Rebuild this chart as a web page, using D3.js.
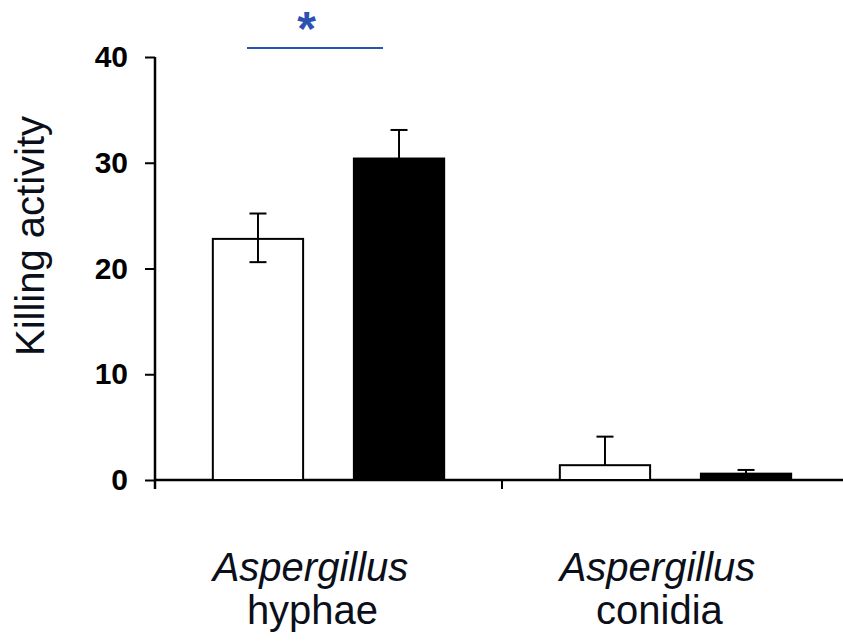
<!DOCTYPE html>
<html>
<head>
<meta charset="utf-8">
<script src="https://cdn.jsdelivr.net/npm/d3@7"></script>
<style>
  html,body{margin:0;padding:0;background:#fff;}
  svg{display:block;font-family:"Liberation Sans",Arial,sans-serif;}
</style>
</head>
<body>
<div id="chart"></div>
<script>
const groups=["hyphae","conidia"];
const groupPrefix=["Aspergillus","Aspergillus"];
const series=["control","treated"];
const seriesFill=["#ffffff","#000000"];
const means=[[22.8,30.4],[1.4,0.6]];
const errUp=[[2.4,2.7],[2.7,0.35]];
const errDown=[[2.2,0],[0,0]];
const yTicks=[0,10,20,30,40];

(function(){
  const W=843,H=643;
  const svg=d3.select("#chart").append("svg").attr("width",W).attr("height",H);
  const x0=155,x1=849,yBase=480,yTop=57;
  const x=d3.scaleBand().domain(groups).range([x0,x1]);
  const xi=d3.scaleBand().domain(series).range([0,x.bandwidth()]).paddingInner(.36).paddingOuter(.41);
  const y=d3.scaleLinear().domain([0,40]).range([yBase,yTop]);

  // y axis
  const ya=svg.append("g").attr("transform",`translate(${x0},0)`)
    .call(d3.axisLeft(y).tickValues(yTicks).tickSize(10).tickPadding(17));
  ya.select(".domain").attr("stroke","#000").attr("stroke-width",2.5).attr("d",`M0,${yTop}V${yBase+9}`);
  ya.selectAll(".tick line").attr("stroke","#000").attr("stroke-width",2);
  ya.selectAll(".tick text").attr("font-size",30).attr("font-weight","bold").attr("fill","#000")
    .attr("font-family","Liberation Sans,Arial,sans-serif");

  // x axis
  const xa=svg.append("g").attr("transform",`translate(0,${yBase})`);
  xa.append("line").attr("x1",x0).attr("x2",x1).attr("stroke","#000").attr("stroke-width",2.5);
  xa.selectAll(".sep").data(groups.slice(1)).join("line")
    .attr("x1",d=>x(d)).attr("x2",d=>x(d)).attr("y1",0).attr("y2",9)
    .attr("stroke","#000").attr("stroke-width",2);

  const rows=[];
  groups.forEach((g,gi)=>series.forEach((s,si)=>rows.push({g,s,gi,si,v:means[gi][si],up:errUp[gi][si],dn:errDown[gi][si]})));
  const cx=d=>x(d.g)+xi(d.s)+xi.bandwidth()/2;
  const cap=8.5;

  svg.append("g").selectAll("rect").data(rows).join("rect")
    .attr("x",d=>x(d.g)+xi(d.s)).attr("width",xi.bandwidth())
    .attr("y",d=>y(d.v)).attr("height",d=>yBase-y(d.v))
    .attr("fill",d=>seriesFill[d.si]).attr("stroke","#000").attr("stroke-width",2);

  // error bars
  const eb=svg.append("g").attr("stroke","#000").attr("stroke-width",2);
  eb.selectAll(".ev").data(rows).join("line")
    .attr("x1",cx).attr("x2",cx).attr("y1",d=>y(d.v-d.dn)).attr("y2",d=>y(d.v+d.up));
  eb.selectAll(".cu").data(rows).join("line")
    .attr("x1",d=>cx(d)-cap).attr("x2",d=>cx(d)+cap).attr("y1",d=>y(d.v+d.up)).attr("y2",d=>y(d.v+d.up));
  eb.selectAll(".cd").data(rows.filter(d=>d.dn>0)).join("line")
    .attr("x1",d=>cx(d)-cap).attr("x2",d=>cx(d)+cap).attr("y1",d=>y(d.v-d.dn)).attr("y2",d=>y(d.v-d.dn));

  // significance
  const r0=rows[0],r1=rows[1];
  const sy=48;
  svg.append("line").attr("x1",cx(r0)-11).attr("x2",cx(r1)-16).attr("y1",sy).attr("y2",sy)
    .attr("stroke","#2b52b0").attr("stroke-width",2);
  svg.append("text").attr("x",(cx(r0)+cx(r1))/2-22).attr("y",45).attr("text-anchor","middle")
    .attr("font-size",48).attr("font-weight","bold").attr("fill","#2b52b0").text("*");

  // x labels
  const xl=svg.append("g").attr("text-anchor","middle").attr("fill","#0b0f1a");
  xl.selectAll(".p").data(groups).join("text")
    .attr("x",d=>x(d)+x.bandwidth()/2-18).attr("y",581).attr("font-size",40).attr("font-style","italic")
    .text((d,i)=>groupPrefix[i]);
  xl.selectAll(".n").data(groups).join("text")
    .attr("x",d=>x(d)+x.bandwidth()/2-16).attr("y",624).attr("font-size",40)
    .text(d=>d);

  // y label
  svg.append("text").attr("transform",`translate(44,236) rotate(-90)`).attr("text-anchor","middle")
    .attr("font-size",40).attr("fill","#0b0f1a").text("Killing activity");
})();
</script>
</body>
</html>
